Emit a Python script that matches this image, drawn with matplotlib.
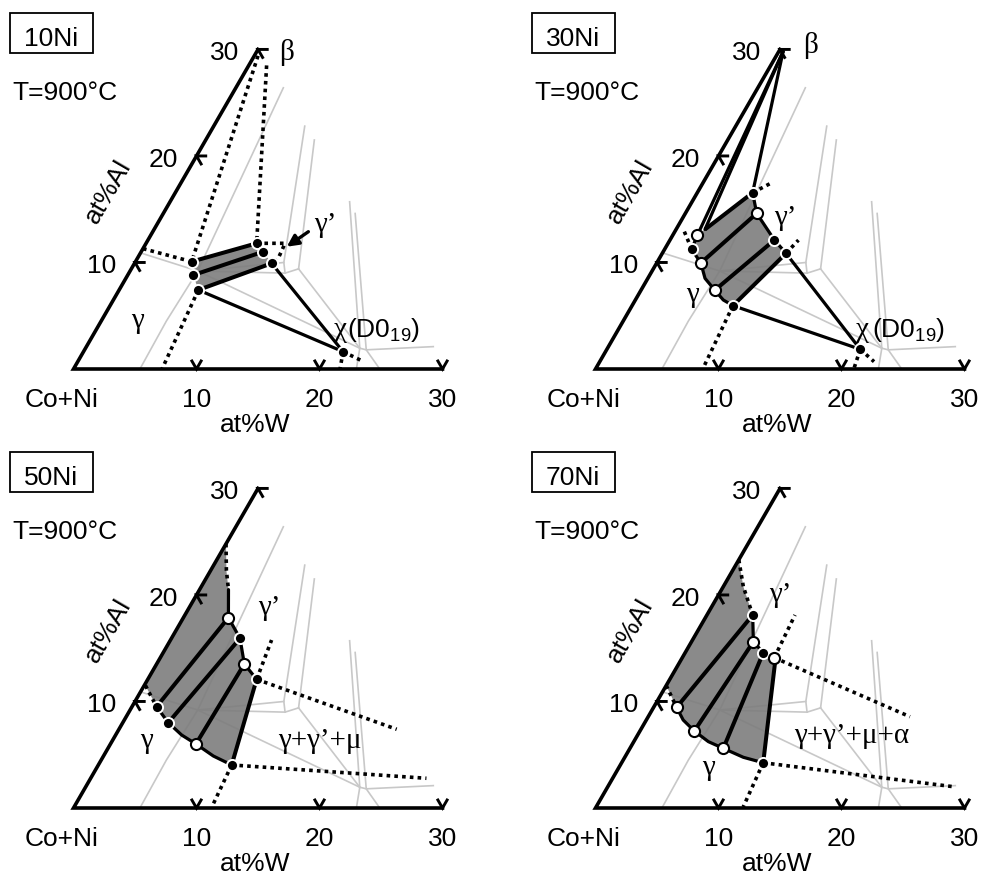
import numpy as np
import matplotlib
matplotlib.use('Agg')
import matplotlib.pyplot as plt
from matplotlib.patches import Polygon, Rectangle

plt.rcParams['font.family'] = ['Liberation Sans', 'DejaVu Sans']
plt.rcParams['mathtext.fontset'] = 'custom'
plt.rcParams['mathtext.rm'] = 'Liberation Sans'
plt.rcParams['mathtext.default'] = 'regular'

# ---------------- data: compositions as (at%W, at%Al) ----------------
TICKS = [10, 20, 30]
PANEL_NAMES = ['10Ni', '30Ni', '50Ni', '70Ni']

# light grey reference boundaries (same in all panels)
GREY_LINES = [
    [(5.4, 0.0), (5.3, 4.5), (5.5, 9.2), (3.86, 26.4)],
    [(0.0, 10.9), (5.5, 9.2)],
    [(5.5, 9.2), (12.1, 10.0)],
    [(5.5, 9.2), (12.7, 9.0), (13.6, 9.4)],
    [(7.4, 22.8), (12.1, 10.0), (12.7, 9.0)],
    [(8.83, 21.5), (13.6, 9.4)],
    [(5.5, 9.2), (22.3, 1.95)],
    [(13.6, 9.4), (22.3, 1.95)],
    [(14.6, 15.7), (22.3, 1.95), (23.0, 0.0)],
    [(15.6, 14.6), (22.9, 1.8), (24.9, 0.0)],
    [(22.3, 1.95), (22.9, 1.8), (28.2, 2.1)],
]

# ---- panel 1 : 10Ni ----
P1_GAMMA = [(4.57, 10.08), (5.33, 8.82), (6.44, 7.42)]
P1_GPRIME = [(8.99, 11.8), (9.92, 11.01), (11.15, 9.92)]
P1_CHI = (21.1, 1.63)
P1_DOTTED = [
    [(0.3, 29.4), (4.57, 10.08)],
    [(1.45, 28.5), (8.99, 11.8)],
    [(0.0, 11.3), (4.57, 10.08)],
    [(6.44, 7.42), (7.2, 0.0)],
    [(8.99, 11.8), (11.3, 11.8), (11.45, 10.4), (11.15, 9.92)],
    [(21.1, 1.63), (22.9, 0.84)],
    [(21.1, 1.63), (21.67, 0.0)],
]
P1_SOLID = [
    [(6.44, 7.42), (21.1, 1.63)],
    [(11.15, 9.92), (21.1, 1.63)],
]
P1_ARROW = [(12.65, 12.89), (11.6, 11.48)]

# ---- panel 2 : 30Ni ----
P2_BETA = (0.35, 29.8)
P2_GAMMA = [(2.0, 12.58), (2.2, 11.24), (3.59, 9.95), (6.0, 7.4), (8.2, 5.95)]
P2_GAMMA_OPEN = [True, False, True, True, False]
P2_GAMMA_CURVE = [(2.0, 12.58), (2.2, 11.24), (3.59, 9.95), (4.65, 8.51),
                  (6.0, 7.4), (7.15, 6.48), (8.2, 5.95)]
P2_GPRIME = [(4.5, 16.55), (5.8, 14.61), (8.49, 12.11), (10.06, 10.86)]
P2_GPRIME_OPEN = [False, True, False, False]
P2_CORNER = (2.35, 13.1)
P2_CHI = (20.6, 1.85)
P2_TIES = [
    [(2.35, 13.1), (4.5, 16.55)],
    [(3.59, 9.95), (5.8, 14.61)],
    [(6.0, 7.4), (8.49, 12.11)],
    [(8.2, 5.95), (10.06, 10.86)],
]
P2_DOTTED = [
    [(4.5, 16.55), (5.6, 17.5)],
    [(10.06, 10.86), (10.45, 12.1)],
    [(2.2, 11.24), (0.6, 13.1)],
    [(8.2, 5.95), (8.7, 0.2)],
    [(20.6, 1.85), (22.3, 0.69)],
    [(20.6, 1.85), (21.0, 0.0)],
]

# ---- panel 3 : 50Ni ----
P3_GP_TOP = [(0.0, 24.8), (1.28, 22.3), (2.35, 20.5)]
P3_GPRIME = [(3.66, 17.87), (5.57, 15.93), (7.13, 13.52), (8.85, 12.08)]
P3_GPRIME_OPEN = [True, False, True, False]
P3_GAMMA_AXIS = (0.1, 11.5)
P3_GAMMA = [(2.0, 9.51), (3.7, 8.01), (6.95, 6.01), (10.84, 4.04)]
P3_GAMMA_OPEN = [False, False, True, False]
P3_GAMMA_CURVE = [(2.0, 9.51), (3.7, 8.01), (5.37, 6.85), (6.95, 6.01),
                  (8.93, 4.88), (10.84, 4.04)]
P3_DOTTED = [
    [(8.85, 12.08), (8.22, 15.77)],
    [(8.85, 12.08), (22.58, 7.39)],
    [(10.84, 4.04), (27.3, 2.79)],
    [(10.84, 4.04), (11.2, 0.1)],
]

# ---- panel 4 : 70Ni ----
P4_GP_TOP = [(0.0, 23.3), (1.63, 20.78), (3.72, 18.12)]
P4_GPRIME = [(3.72, 18.12), (5.03, 15.61), (6.35, 14.58), (7.48, 14.11)]
P4_GPRIME_OPEN = [False, True, False, True]
P4_EDGE_TOP = (7.8, 13.58)
P4_GAMMA_AXIS = (0.0, 11.5)
P4_GAMMA = [(1.87, 9.45), (4.42, 7.23), (7.59, 5.6), (11.51, 4.25)]
P4_GAMMA_OPEN = [True, True, True, False]
P4_GAMMA_CURVE = [(1.87, 9.45), (3.0, 8.26), (4.42, 7.23), (6.06, 6.23),
                  (7.59, 5.6), (9.64, 4.76), (11.51, 4.25)]
P4_DOTTED = [
    [(7.48, 14.11), (7.16, 18.12)],
    [(7.48, 14.11), (21.28, 8.57)],
    [(11.51, 4.25), (28.09, 2.0)],
    [(11.51, 4.25), (11.96, 0.1)],
]

# ---------------- helpers ----------------
SQ = np.sqrt(3) / 2


def cart(pts):
    a = np.asarray(pts, float).reshape(-1, 2)
    return a[:, 0] + a[:, 1] / 2, a[:, 1] * SQ


DOT = dict(color='k', lw=2.6, linestyle=(0, (1.0, 1.15)), dash_capstyle='butt', zorder=4)
SOLID = dict(color='k', lw=2.3, solid_capstyle='round', zorder=4)
TIE = dict(color='k', lw=2.9, solid_capstyle='butt', zorder=4)
SHADE = '#7d7d7d'
GREY = '#c8c8c8'
SANS = 19
SERIF = dict(family=['Liberation Serif', 'DejaVu Serif'], fontsize=21)


def line(ax, pts, **kw):
    x, y = cart(pts)
    ax.plot(x, y, **kw)


def markers(ax, pts, opens=None):
    if opens is None:
        opens = [False] * len(pts)
    for p, o in zip(pts, opens):
        x, y = cart(p)
        if o:
            ax.plot(x, y, 'o', ms=8, mfc='white', mec='k', mew=1.5, zorder=6)
        else:
            ax.plot(x, y, 'o', ms=8, mfc='k', mec='white', mew=1.4, zorder=6)


def shade(ax, pts):
    x, y = cart(pts)
    ax.add_patch(Polygon(np.column_stack([x, y]), closed=True, fc=SHADE,
                         ec='none', alpha=0.9, zorder=2))


def frame(ax, name):
    x, y = cart([(30, 0), (0, 0), (0, 30)])
    ax.plot(x, y, color='k', lw=2.6, solid_joinstyle='miter', zorder=5)
    L = 0.75
    for v in TICKS:
        ax.plot([v - L / 2, v, v + L / 2], [L * SQ, 0, L * SQ], color='k', lw=2.1,
                zorder=5, solid_joinstyle='miter')
        cx, cy = v / 2, v * SQ
        ax.plot([cx + L, cx, cx + L / 2], [cy, cy, cy - L * SQ], color='k', lw=2.1,
                zorder=5, solid_joinstyle='miter')
        ax.text(v, -3.06, str(v), ha='center', va='baseline', fontsize=SANS)
        ax.text(cx - 2.7, cy - 0.86, str(v), ha='center', va='baseline', fontsize=SANS)
    ax.text(-1.0, -3.06, 'Co+Ni', ha='center', va='baseline', fontsize=SANS)
    ax.text(14.76, -5.12, 'at%W', ha='center', va='baseline', fontsize=SANS)
    ax.text(2.8, 14.39, 'at%Al', ha='center', va='center', rotation=60,
            rotation_mode='anchor', fontsize=SANS)
    ax.add_patch(Rectangle((-5.16, 25.69), 6.75, 3.25, fill=False, ec='k', lw=1.3,
                           zorder=5))
    ax.text(-1.83, 26.3, name, ha='center', va='baseline', fontsize=SANS)
    ax.text(-5.0, 21.87, 'T=900°C', ha='left', va='baseline', fontsize=SANS)
    for g in GREY_LINES:
        line(ax, g, color=GREY, lw=1.2, zorder=1)


def chi_label(ax, x, y, gap):
    ax.text(x, y, 'χ', ha='right', va='baseline', **SERIF)
    ax.text(x + gap, y, '(D0$_{19}$)', ha='left', va='baseline', fontsize=SANS)


# ---------------- figure ----------------
FW, FH = 984, 875
S = 12.3
fig = plt.figure(figsize=(FW / 100, FH / 100), dpi=100)
ORIG = [(73.5, 369), (595.5, 369), (73.5, 808), (595.5, 808)]
BOX_X = [(0, 522), (522, 984), (0, 522), (522, 984)]
BOX_Y = [(0, 439), (0, 439), (439, 875), (439, 875)]
axes = []
for (ox, oy), (x0, x1), (y0, y1) in zip(ORIG, BOX_X, BOX_Y):
    ax = fig.add_axes([x0 / FW, 1 - y1 / FH, (x1 - x0) / FW, (y1 - y0) / FH])
    ax.set_xlim((x0 - ox) / S, (x1 - ox) / S)
    ax.set_ylim((oy - y1) / S, (oy - y0) / S)
    ax.axis('off')
    axes.append(ax)

for ax, n in zip(axes, PANEL_NAMES):
    frame(ax, n)

# ---- panel 1 ----
ax = axes[0]
shade(ax, [P1_GAMMA[0]] + P1_GPRIME + [P1_GAMMA[2], P1_GAMMA[1]])
for g, gp in zip(P1_GAMMA, P1_GPRIME):
    line(ax, [g, gp], **TIE)
for d in P1_DOTTED:
    line(ax, d, **DOT)
for s_ in P1_SOLID:
    line(ax, s_, **SOLID)
markers(ax, P1_GAMMA)
markers(ax, P1_GPRIME)
markers(ax, [P1_CHI])
ax_, ay_ = cart(P1_ARROW)
ax.annotate('', xy=(ax_[1], ay_[1]), xytext=(ax_[0], ay_[0]),
            arrowprops=dict(arrowstyle='-|>', color='k', lw=2.4, mutation_scale=17,
                            shrinkA=0, shrinkB=0), zorder=6)
ax.text(17.33, 25.1, 'β', ha='center', va='baseline', **SERIF)
ax.text(20.5, 11.14, 'γ’', ha='center', va='baseline', **SERIF)
ax.text(5.2, 3.33, 'γ', ha='center', va='baseline', **SERIF)
chi_label(ax, 22.2, 2.63, 0.05)

# ---- panel 2 ----
ax = axes[1]
shade(ax, [P2_GAMMA[0], P2_CORNER] + P2_GPRIME + P2_GAMMA_CURVE[::-1][:-1])
for t in P2_TIES:
    line(ax, t, **TIE)
for target in [P2_GAMMA[0], P2_CORNER, P2_GPRIME[0]]:
    line(ax, [P2_BETA, target], **SOLID)
line(ax, P2_GAMMA_CURVE, **SOLID)
line(ax, P2_GPRIME, **SOLID)
line(ax, [P2_GPRIME[-1], P2_CHI], **SOLID)
line(ax, [P2_GAMMA[-1], P2_CHI], **SOLID)
for d in P2_DOTTED:
    line(ax, d, **DOT)
markers(ax, P2_GAMMA, P2_GAMMA_OPEN)
markers(ax, P2_GPRIME, P2_GPRIME_OPEN)
markers(ax, [P2_CHI])
ax.text(17.46, 25.67, 'β', ha='center', va='baseline', **SERIF)
ax.text(15.45, 11.7, 'γ’', ha='center', va='baseline', **SERIF)
ax.text(7.85, 5.45, 'γ', ha='center', va='baseline', **SERIF)
chi_label(ax, 22.2, 2.63, 0.3)

# ---- panels 3 and 4 ----
for ax, gtop, gp, gpo, gax, gam, gamo, gcurve, dots, extra, lab in [
    (axes[2], P3_GP_TOP, P3_GPRIME, P3_GPRIME_OPEN, P3_GAMMA_AXIS, P3_GAMMA,
     P3_GAMMA_OPEN, P3_GAMMA_CURVE, P3_DOTTED, None,
     [((15.9, 15.69), 'γ’'), ((5.95, 4.88), 'γ'), ((20.04, 4.88), 'γ+γ’+μ')]),
    (axes[3], P4_GP_TOP, P4_GPRIME, P4_GPRIME_OPEN, P4_GAMMA_AXIS, P4_GAMMA,
     P4_GAMMA_OPEN, P4_GAMMA_CURVE, P4_DOTTED, P4_EDGE_TOP,
     [((15.04, 16.75), 'γ’'), ((9.15, 2.68), 'γ'), ((20.85, 5.28), 'γ+γ’+μ+α')]),
]:
    rtop = [extra] if extra is not None else []
    poly = list(gtop) + list(gp if gtop[-1] != gp[0] else gp[1:]) + rtop + \
        gcurve[::-1] + [gax]
    shade(ax, poly)
    line(ax, gtop, **DOT)
    if gtop[-1] != gp[0]:
        line(ax, [gtop[-1], gp[0]], **SOLID)
    line(ax, gp, **SOLID)
    line(ax, gcurve, **SOLID)
    line(ax, [gax, gam[0]], **DOT)
    for i in range(3):
        line(ax, [gam[i], gp[i]], **TIE)
    if extra is not None:
        line(ax, [gam[3], extra, gp[3]], **TIE)
    else:
        line(ax, [gam[3], gp[3]], **TIE)
    for d in dots:
        line(ax, d, **DOT)
    markers(ax, gam, gamo)
    markers(ax, gp, gpo)
    for (x, y), t in lab:
        ax.text(x, y, t, ha='center', va='baseline', **SERIF)

fig.savefig('out.png', dpi=100)
